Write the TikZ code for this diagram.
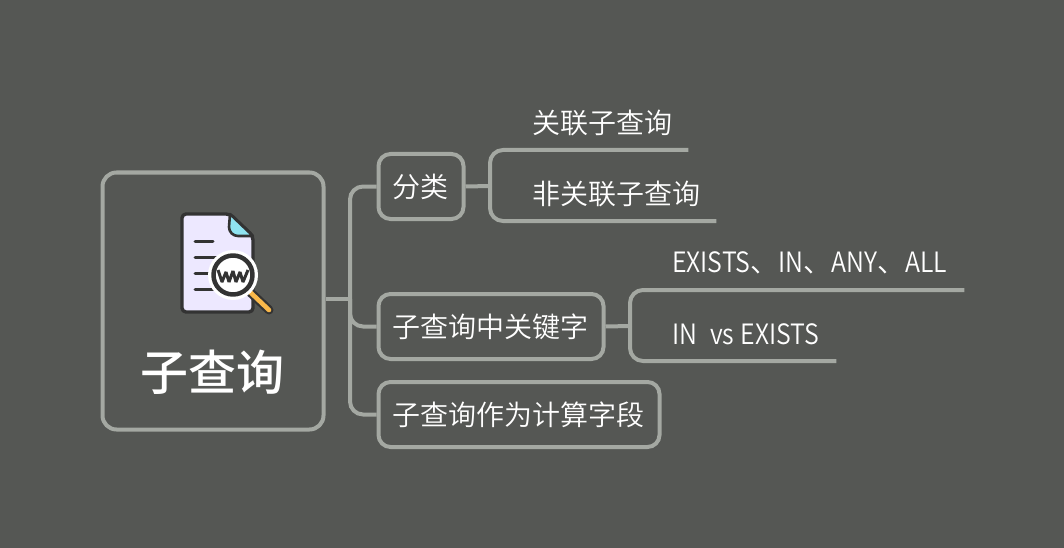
\documentclass[tikz,border=0pt]{standalone}
\usepackage{fontspec}
\setmainfont{Noto Sans CJK SC DemiLight}
\newfontfamily\rootfont{Noto Sans CJK SC Medium}
\newfontfamily\narrowfont[FakeStretch=0.89]{Noto Sans CJK SC DemiLight}
\definecolor{bgc}{HTML}{555754}
\definecolor{linec}{HTML}{A4A8A2}
\definecolor{inkc}{HTML}{333333}
\definecolor{paperc}{HTML}{EDE8FF}
\definecolor{foldc}{HTML}{8FE3F0}
\definecolor{handlec}{HTML}{F9B84A}
\newcommand{\lat}[1]{{\narrowfont #1}}
\tikzset{
 conn/.style={draw=linec,line width=4pt,rounded corners=13pt},
 box/.style={draw=linec,line width=4pt,rounded corners=12pt,text=white,font=\fontsize{28pt}{30pt}\selectfont,inner sep=0pt,minimum height=65pt,align=center},
 leaf/.style={inner sep=0pt,text=white,font=\fontsize{28pt}{30pt}\selectfont,anchor=south west,align=left,minimum height=53.5pt},
 iconline/.style={draw=inkc,line width=3pt,line cap=round},
}
\begin{document}
\begin{tikzpicture}[x=1pt,y=-1pt]
\useasboundingbox (0,0) rectangle (1064,548);
\fill[bgc] (0,0) rectangle (1064,548);
% root
\node[draw=linec,line width=4pt,rounded corners=14pt,minimum width=221pt,minimum height=257pt,inner sep=0pt] (root) at (213,301) {};
\node[text=white,inner sep=0pt,font=\rootfont\fontsize{48pt}{50pt}\selectfont] (roottext) at (212.5,372) {子查询};
% branches
\node[box,minimum width=85pt] (fen) at (421,186.5) {\hspace*{-1pt}分类};
\node[box,minimum width=225pt] (kw) at (491,326.5) {\hspace*{-1pt}子查询中关键字};
\node[box,minimum width=281pt] (calc) at (519,414.5) {\hspace*{-1pt}子查询作为计算字段};
% leaves
\node[leaf,text width=198pt] (l1) at (490,150) {\hspace*{42pt}\mbox{关联子查询}};
\node[leaf,text width=226pt] (l2) at (490,221) {\hspace*{42pt}\mbox{非关联子查询}};
\node[leaf,text width=334pt] (l3) at (630,290) {\hspace*{42pt}\mbox{\lat{EXISTS}、\lat{IN}、\lat{ANY}、\lat{ALL}}};
\node[leaf,text width=206pt] (l4) at (630,361) {\hspace*{42pt}\mbox{\lat{IN\hspace{13pt}vs\hspace{6pt}EXISTS}}};
% connectors
\coordinate (j0) at (350,299);
\coordinate (j1) at (490,186);
\coordinate (j2) at (630,326);
\draw[conn] (root.east |- j0) -- (j0);
\draw[conn] (j0) |- (fen.west);
\draw[conn] (j0) |- (kw.west);
\draw[conn] (j0) |- (calc.west);
\draw[linec,line width=4pt] (fen.east) -- (j1);
\draw[linec,line width=4pt] (kw.east) -- (j2);
\draw[conn] (j1) |- (l1.south east);
\draw[conn] (j1) |- (l2.south east);
\draw[conn] (j2) |- (l3.south east);
\draw[conn] (j2) |- (l4.south east);
% icon
\begin{scope}[line join=round]
\draw[inkc,line width=3.4pt,fill=paperc,rounded corners=4pt] (230,214) -- (182,214) -- (182,312) -- (253,312) -- (253,236) -- cycle;
\draw[inkc,line width=2.6pt,fill=foldc] (230,214) -- (253,236) -- (238,236) .. controls (233,236) and (229,232) .. (229,227) -- cycle;
\draw[iconline] (195,241) -- (213,241);
\draw[iconline] (195,257) -- (218,257);
\draw[iconline] (195,273) -- (212,273);
\draw[iconline] (195,289) -- (218,289);
\draw[inkc,line width=9pt,line cap=round] (250,292) -- (269,310);
\draw[handlec,line width=4.6pt,line cap=round] (250,292) -- (269,310);
\fill[white] (233,275) circle (25pt);
\draw[inkc,line width=4.5pt] (233,275) circle (19.5pt);
\draw[inkc,line width=3pt,line join=miter,miter limit=2] (218,270) -- (222,282) -- (226,272) -- (229,282) -- (233,271) -- (236,282) -- (240,272) -- (243,282) -- (248,270);
\end{scope}
\end{tikzpicture}
\end{document}
